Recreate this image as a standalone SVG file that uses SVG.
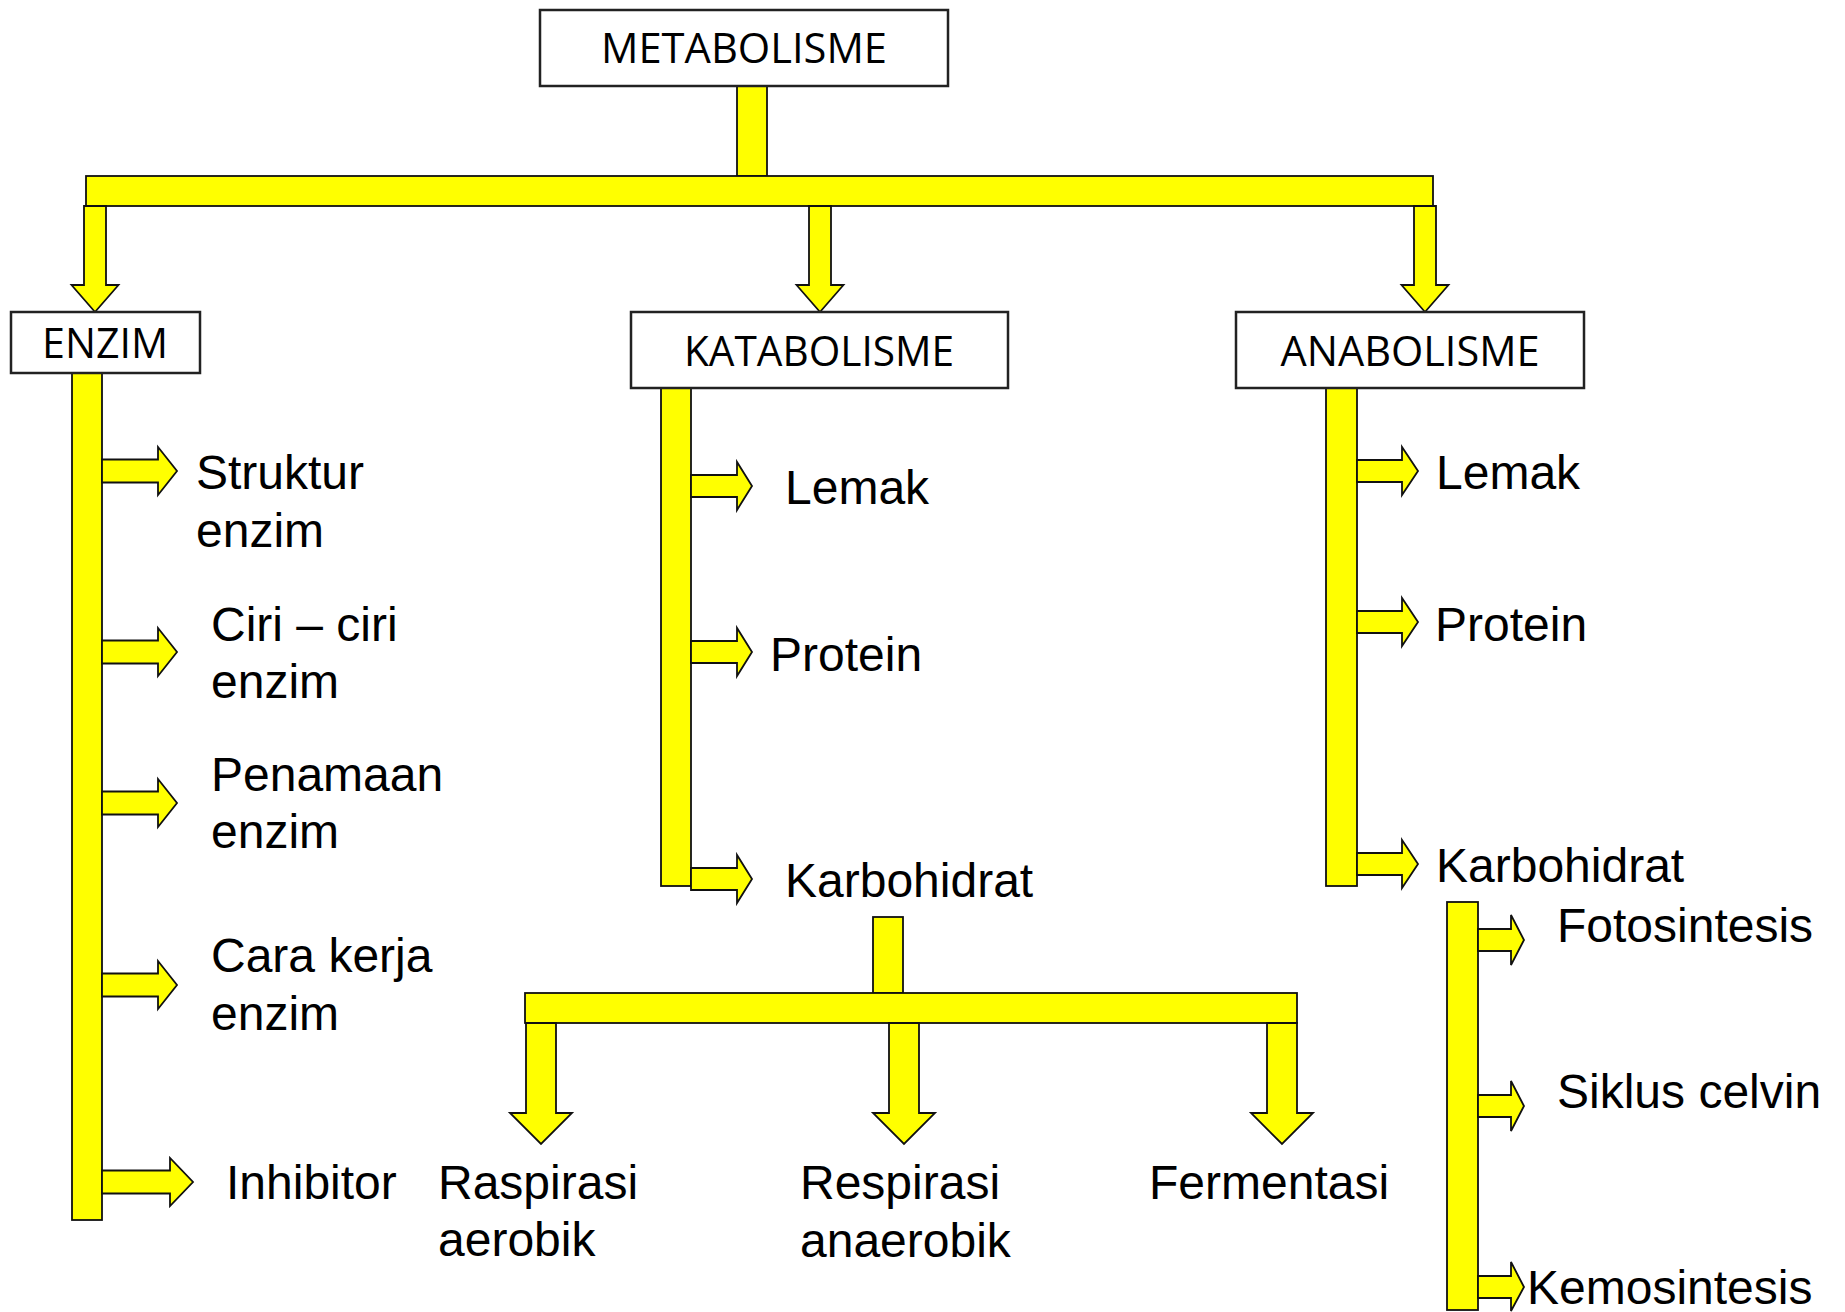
<svg xmlns="http://www.w3.org/2000/svg" width="1845" height="1312" viewBox="0 0 1845 1312">
<style>
.box{fill:#fff;stroke:#222;stroke-width:2.5}
.y{fill:#ffff00;stroke:#111;stroke-width:1.8;stroke-linejoin:miter}
.bt{font-family:"Open Sans","Noto Sans",sans-serif;font-size:42px;fill:#000;text-anchor:middle}
.t{font-family:"Liberation Sans",Arial,sans-serif;font-size:48px;fill:#000}
</style>
<rect width="1845" height="1312" fill="#fff"/>
<g id="connectors">
<rect class="y" x="737" y="86" width="30" height="90"/>
<rect class="y" x="86" y="176" width="1347" height="30"/>
<polygon class="y" points="84,206 106,206 106,285 118.5,285 95,312 71.5,285 84,285"/>
<polygon class="y" points="809,206 831,206 831,285 843.5,285 820,312 796.5,285 809,285"/>
<polygon class="y" points="1414,206 1436,206 1436,285 1448.5,285 1425,312 1401.5,285 1414,285"/>
<rect class="y" x="72" y="373" width="30" height="847"/>
<polygon class="y" points="102,459.5 158,459.5 158,447 177,471 158,495 158,482.5 102,482.5"/>
<polygon class="y" points="102,640.5 158,640.5 158,628 177,652 158,676 158,663.5 102,663.5"/>
<polygon class="y" points="102,791.5 158,791.5 158,779 177,803 158,827 158,814.5 102,814.5"/>
<polygon class="y" points="102,973.5 158,973.5 158,961 177,985 158,1009 158,996.5 102,996.5"/>
<polygon class="y" points="102,1170.5 170,1170.5 170,1158 193,1182 170,1206 170,1193.5 102,1193.5"/>
<rect class="y" x="661" y="388" width="30" height="498"/>
<polygon class="y" points="691,475 737,475 737,462 752,486 737,510 737,497 691,497"/>
<polygon class="y" points="691,641 737,641 737,628 752,652 737,676 737,663 691,663"/>
<polygon class="y" points="691,868 737,868 737,855 752,879 737,903 737,890 691,890"/>
<rect class="y" x="873" y="917" width="30" height="76"/>
<rect class="y" x="525" y="993" width="772" height="30"/>
<polygon class="y" points="526,1023 556,1023 556,1113 572,1113 541,1144 510,1113 526,1113"/>
<polygon class="y" points="889,1023 919,1023 919,1113 935,1113 904,1144 873,1113 889,1113"/>
<polygon class="y" points="1267,1023 1297,1023 1297,1113 1313,1113 1282,1144 1251,1113 1267,1113"/>
<rect class="y" x="1326" y="388" width="31" height="498"/>
<polygon class="y" points="1357,460 1402,460 1402,447 1418,471 1402,495 1402,482 1357,482"/>
<polygon class="y" points="1357,611 1402,611 1402,598 1418,622 1402,646 1402,633 1357,633"/>
<polygon class="y" points="1357,853 1402,853 1402,840 1418,864 1402,888 1402,875 1357,875"/>
<rect class="y" x="1447" y="902" width="31" height="408"/>
<polygon class="y" points="1478,929 1511,929 1511,915 1524,940 1511,965 1511,951 1478,951"/>
<polygon class="y" points="1478,1095 1511,1095 1511,1081 1524,1106 1511,1131 1511,1117 1478,1117"/>
<polygon class="y" points="1478,1276 1511,1276 1511,1262 1524,1287 1511,1311 1511,1298 1478,1298"/>
</g>
<g id="metabolisme"><rect class="box" x="540" y="10" width="408" height="76"/><text class="bt" x="744" y="63" textLength="286" lengthAdjust="spacingAndGlyphs">METABOLISME</text></g>
<g id="enzim"><rect class="box" x="11" y="312" width="189" height="61"/><text class="bt" x="105" y="358" textLength="126" lengthAdjust="spacingAndGlyphs">ENZIM</text></g>
<g id="katabolisme"><rect class="box" x="631" y="312" width="377" height="76"/><text class="bt" x="819" y="366" textLength="270" lengthAdjust="spacingAndGlyphs">KATABOLISME</text></g>
<g id="anabolisme"><rect class="box" x="1236" y="312" width="348" height="76"/><text class="bt" x="1410" y="366" textLength="259" lengthAdjust="spacingAndGlyphs">ANABOLISME</text></g>
<g id="enzim-items">
<text class="t" x="196" y="489">Struktur</text><text class="t" x="196" y="546.5">enzim</text>
<text class="t" x="211" y="640.5">Ciri – ciri</text><text class="t" x="211" y="697.5">enzim</text>
<text class="t" x="211" y="790.5">Penamaan</text><text class="t" x="211" y="848">enzim</text>
<text class="t" x="211" y="972">Cara kerja</text><text class="t" x="211" y="1030">enzim</text>
<text class="t" x="226" y="1199">Inhibitor</text>
</g>
<g id="katabolisme-items">
<text class="t" x="785" y="504">Lemak</text>
<text class="t" x="770" y="671">Protein</text>
<text class="t" x="785" y="897">Karbohidrat</text>
</g>
<g id="respirasi-items">
<text class="t" x="438" y="1199">Raspirasi</text><text class="t" x="438" y="1256">aerobik</text>
<text class="t" x="800" y="1199">Respirasi</text><text class="t" x="800" y="1256.5">anaerobik</text>
<text class="t" x="1149" y="1199">Fermentasi</text>
</g>
<g id="anabolisme-items">
<text class="t" x="1436" y="489">Lemak</text>
<text class="t" x="1435" y="641">Protein</text>
<text class="t" x="1436" y="882">Karbohidrat</text>
<text class="t" x="1557" y="942">Fotosintesis</text>
<text class="t" x="1557" y="1108">Siklus celvin</text>
<text class="t" x="1527" y="1304">Kemosintesis</text>
</g>
</svg>
